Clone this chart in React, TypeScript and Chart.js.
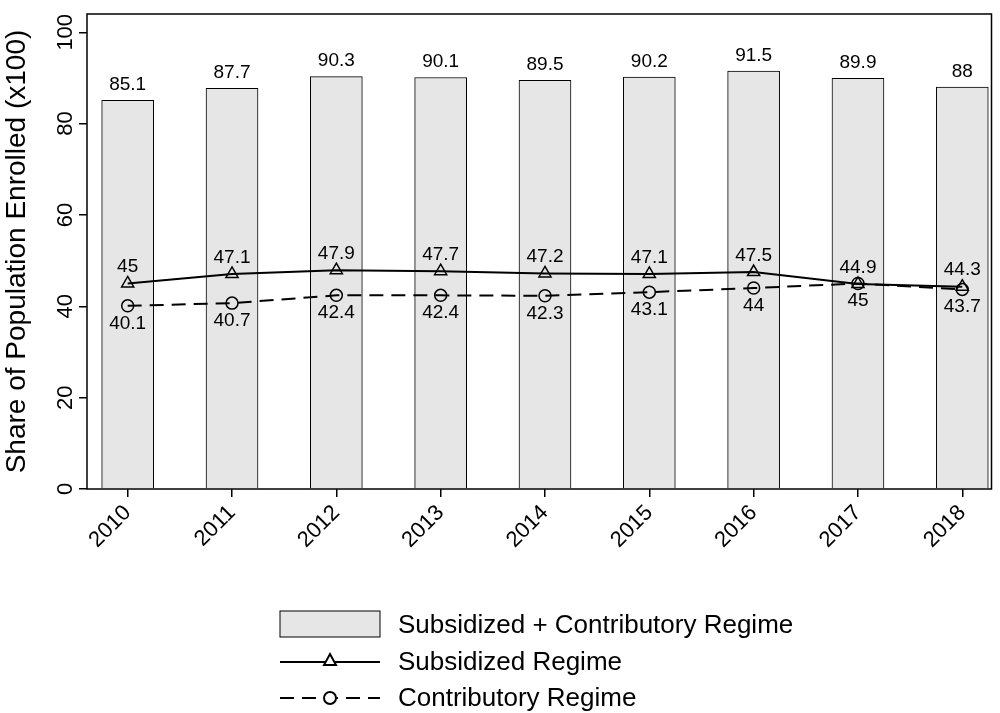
import { Chart, registerables } from 'chart.js';
import { useEffect, useRef } from 'react';

Chart.register(...registerables);

const years = ['2010', '2011', '2012', '2013', '2014', '2015', '2016', '2017', '2018'];
const totalRegime = [85.1, 87.7, 90.3, 90.1, 89.5, 90.2, 91.5, 89.9, 88];
const subsidized = [45, 47.1, 47.9, 47.7, 47.2, 47.1, 47.5, 44.9, 44.3];
const contributory = [40.1, 40.7, 42.4, 42.4, 42.3, 43.1, 44, 45, 43.7];
const yTicks = [0, 20, 40, 60, 80, 100];

const FONT = 'Liberation Sans, Arial, sans-serif';

const overlay = {
    id: 'overlay',
    afterDraw(chart: any) {
        const { ctx, chartArea: a, scales } = chart;
        const xs = scales.x, ys = scales.y;
        ctx.save();
        ctx.strokeStyle = '#000';
        ctx.lineWidth = 1.5;
        ctx.strokeRect(a.left, a.top, a.right - a.left, a.bottom - a.top);
        ctx.fillStyle = '#000';
        // y tick labels, rotated and centred on their ticks
        ctx.font = `22px ${FONT}`;
        ctx.textAlign = 'center';
        ctx.textBaseline = 'bottom';
        yTicks.forEach((v) => {
            ctx.save();
            ctx.translate(a.left - 10, ys.getPixelForValue(v));
            ctx.rotate(-Math.PI / 2);
            ctx.fillText(String(v), 0, 0);
            ctx.restore();
        });
        ctx.font = `19px ${FONT}`;
        years.forEach((_, i) => {
            const x = xs.getPixelForValue(i);
            ctx.textBaseline = 'bottom';
            ctx.fillText(String(totalRegime[i]), x, ys.getPixelForValue(totalRegime[i]) - 6);
            ctx.fillText(String(subsidized[i]), x, ys.getPixelForValue(subsidized[i]) - 7);
            ctx.textBaseline = 'top';
            ctx.fillText(String(contributory[i]), x, ys.getPixelForValue(contributory[i]) + 8);
        });
        // legend
        const lx = 280, lw = 100;
        ctx.font = `26px ${FONT}`;
        ctx.textAlign = 'left';
        ctx.textBaseline = 'middle';
        ctx.fillStyle = '#e6e6e6';
        ctx.fillRect(lx, 611, lw, 26);
        ctx.lineWidth = 1;
        ctx.strokeRect(lx, 611, lw, 26);
        ctx.fillStyle = '#000';
        ctx.fillText('Subsidized + Contributory Regime', 398, 626);
        ctx.lineWidth = 2;
        ctx.beginPath();
        ctx.moveTo(lx, 662); ctx.lineTo(lx + lw, 662); ctx.stroke();
        ctx.fillStyle = '#fff';
        ctx.beginPath();
        ctx.moveTo(330, 654); ctx.lineTo(336, 665); ctx.lineTo(324, 665); ctx.closePath();
        ctx.fill(); ctx.stroke();
        ctx.fillStyle = '#000';
        ctx.fillText('Subsidized Regime', 398, 663);
        ctx.setLineDash([14, 8]);
        ctx.beginPath();
        ctx.moveTo(lx, 698); ctx.lineTo(lx + lw, 698); ctx.stroke();
        ctx.setLineDash([]);
        ctx.fillStyle = '#fff';
        ctx.beginPath(); ctx.arc(330, 698, 6, 0, Math.PI * 2); ctx.fill(); ctx.stroke();
        ctx.fillStyle = '#000';
        ctx.fillText('Contributory Regime', 398, 699);
        ctx.restore();
    },
};

export default function App() {
    const ref = useRef<HTMLCanvasElement | null>(null);
    useEffect(() => {
        document.body.style.margin = '0';
        if (!ref.current) return;
        const chart = new Chart(ref.current, {
            type: 'bar',
            data: {
                datasets: [
                    {
                        type: 'line',
                        label: 'Subsidized Regime',
                        data: subsidized.map((y, i) => ({ x: i, y })),
                        borderColor: '#000',
                        borderWidth: 2,
                        pointStyle: 'triangle',
                        pointRadius: 7,
                        pointBackgroundColor: 'rgba(0,0,0,0)',
                        pointBorderColor: '#000',
                        pointBorderWidth: 1.5,
                        order: 1,
                    },
                    {
                        type: 'line',
                        label: 'Contributory Regime',
                        data: contributory.map((y, i) => ({ x: i, y })),
                        borderColor: '#000',
                        borderWidth: 2,
                        borderDash: [14, 8],
                        pointStyle: 'circle',
                        pointRadius: 6,
                        pointBackgroundColor: 'rgba(0,0,0,0)',
                        pointBorderColor: '#000',
                        pointBorderWidth: 1.5,
                        order: 2,
                    },
                    {
                        type: 'bar',
                        label: 'Subsidized + Contributory Regime',
                        data: totalRegime.map((y, i) => ({ x: i, y })),
                        backgroundColor: '#e6e6e6',
                        borderColor: '#000',
                        borderWidth: 1,
                        barThickness: 52,
                        order: 3,
                    },
                ],
            },
            options: {
                animation: false,
                responsive: false,
                layout: { padding: { top: 14, right: 3 } },
                plugins: { legend: { display: false }, tooltip: { enabled: false } },
                scales: {
                    x: {
                        type: 'linear',
                        offset: false,
                        min: -0.39,
                        max: 8.28,
                        grid: { display: true, offset: false, drawOnChartArea: false, drawTicks: true, tickLength: 8, color: '#000', lineWidth: 1.5 },
                        border: { display: false },
                        afterFit: (s: any) => { s.height = 224; },
                        ticks: {
                            stepSize: 1,
                            includeBounds: false,
                            autoSkip: false,
                            minRotation: 45,
                            maxRotation: 45,
                            color: '#000',
                            font: { family: FONT, size: 22 },
                            callback: (v: any) => (Number.isInteger(v) ? years[v] ?? '' : ''),
                        },
                    },
                    y: {
                        min: 0,
                        max: 104,
                        afterFit: (s: any) => { s.width = 87; },
                        afterBuildTicks: (s: any) => { s.ticks = yTicks.map((v) => ({ value: v })); },
                        grid: { display: true, drawOnChartArea: false, drawTicks: true, tickLength: 8, color: '#000', lineWidth: 1.5 },
                        border: { display: false },
                        title: { display: true, text: 'Share of Population Enrolled (x100)', color: '#000', font: { family: FONT, size: 28 }, padding: 0 },
                        ticks: { callback: () => '' },
                    },
                },
            },
            plugins: [overlay],
        });
        return () => chart.destroy();
    }, []);
    return <canvas ref={ref} width={1000} height={713} style={{ display: 'block' }} />;
}
